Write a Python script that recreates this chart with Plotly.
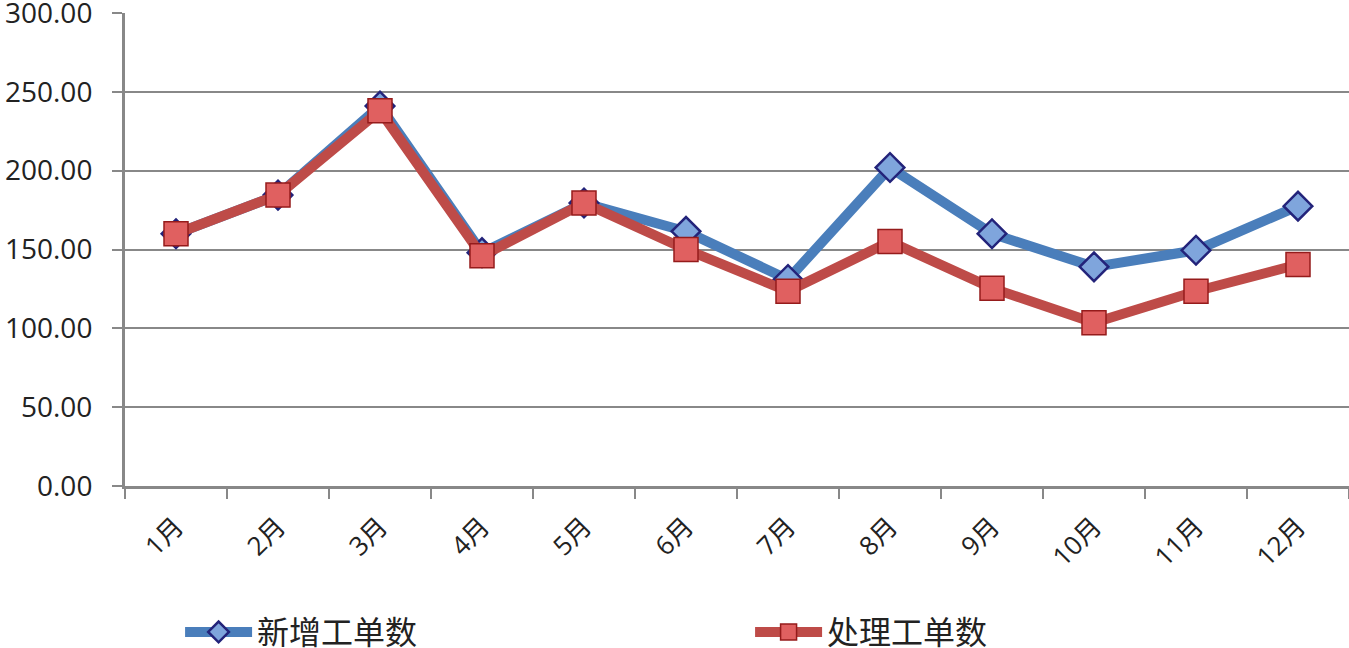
import plotly.graph_objects as go

months = ["1月", "2月", "3月", "4月", "5月", "6月", "7月", "8月", "9月", "10月", "11月", "12月"]
new_orders = [160, 184.5, 241, 148, 179.5, 161.5, 131, 202, 160, 139, 149.5, 177.5]
handled_orders = [160, 184.5, 238, 146, 179.5, 150, 123.5, 155, 125.5, 103.5, 123.5, 140.5]
y_ticks = [0, 50, 100, 150, 200, 250, 300]

font_family = "Open Sans, Noto Sans CJK SC, sans-serif"

fig = go.Figure()
fig.add_trace(go.Scatter(
    x=months, y=new_orders, name="新增工单数", mode="lines+markers",
    line=dict(color="#4a7ebb", width=10),
    marker=dict(symbol="diamond", size=22, color="#7fa5dc",
                line=dict(color="#23237a", width=2.5)),
))
fig.add_trace(go.Scatter(
    x=months, y=handled_orders, name="处理工单数", mode="lines+markers",
    line=dict(color="#be4b48", width=10),
    marker=dict(symbol="square", size=24, color="#e06060",
                line=dict(color="#951b1b", width=1.5)),
))

fig.update_layout(
    width=1349, height=648,
    margin=dict(l=125, r=0, t=13, b=162, autoexpand=False),
    paper_bgcolor="white", plot_bgcolor="white",
    font=dict(family=font_family, color="#222222"),
    showlegend=True,
    legend=dict(orientation="h", x=0.045, xanchor="left", y=-0.309, yanchor="middle",
                font=dict(size=32, color="#222222"), entrywidth=488, entrywidthmode="pixels",
                itemwidth=67, traceorder="normal"),
    xaxis=dict(
        type="category", tickangle=-45, tickson="boundaries", ticks="outside",
        ticklen=10, tickwidth=2, tickcolor="#888888",
        showline=True, linecolor="#888888", linewidth=3,
        showgrid=False, tickfont=dict(size=26, color="#222222"),
        range=[-0.5, 11.5], automargin=False, ticklabelstandoff=12,
    ),
    yaxis=dict(
        range=[0, 300], tickvals=y_ticks, tickformat=".2f",
        ticks="outside", ticklen=10, tickwidth=2, tickcolor="#888888",
        showline=True, linecolor="#888888", linewidth=3,
        showgrid=True, gridcolor="#888888", gridwidth=2,
        tickfont=dict(size=28, color="#222222"), zeroline=False,
        automargin=False, ticklabelstandoff=14, ticklabeloverflow="allow",
    ),
)

fig.write_html(
    "out.html",
    config={"displayModeBar": False},
    post_script="document.body.style.margin='0';document.body.style.overflow='hidden';",
)
